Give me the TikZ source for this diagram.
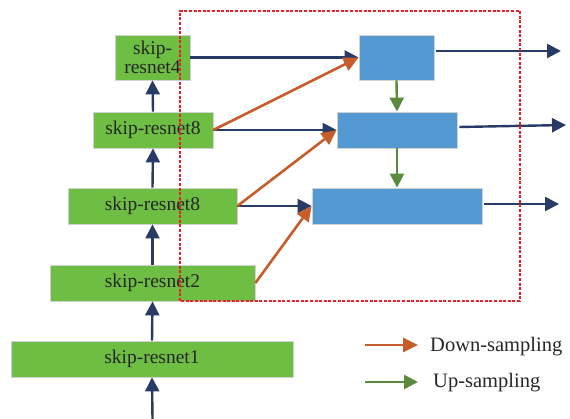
\documentclass[tikz,border=0pt]{standalone}
\usepackage{fontspec}
\setmainfont{Liberation Serif}
\usepackage{tikz}
\usetikzlibrary{arrows.meta,calc,shadows}

\definecolor{boxgreen}{HTML}{6EBE44}
\definecolor{boxblue}{HTML}{5599D3}
\definecolor{navy}{HTML}{283A66}
\definecolor{downorange}{HTML}{C55E2B}
\definecolor{upgreen}{HTML}{5A8A3C}
\definecolor{framered}{HTML}{E8202A}

\begin{document}
\begin{tikzpicture}[x=1pt,y=1pt]
	\tikzstyle{resbox}=[rectangle,fill=boxgreen,draw=gray!35,line width=0.8pt,inner sep=0pt,
	  text=black!85,font=\fontsize{19.5}{21}\selectfont,align=center,
	  drop shadow={opacity=0.12,shadow xshift=1.2pt,shadow yshift=-1.2pt}]
	\tikzstyle{fusebox}=[rectangle,fill=boxblue,draw=gray!35,line width=0.8pt,inner sep=0pt,
	  drop shadow={opacity=0.12,shadow xshift=1.2pt,shadow yshift=-1.2pt}]
	\tikzstyle{flow}=[draw=navy,line width=2.4pt,-{Triangle[length=14pt,width=14pt]}]
	\tikzstyle{down}=[draw=downorange,line width=2.6pt,-{Triangle[length=15pt,width=14pt]}]
	\tikzstyle{up}=[draw=upgreen,line width=2.4pt,-{Triangle[length=14pt,width=14pt]}]
	\useasboundingbox (0,0) rectangle (570,419);
	%
	% backbone
	\node[resbox,minimum width=282pt,minimum height=36pt] (res1) at (152,60) {skip-resnet1};
	\node[resbox,minimum width=205pt,minimum height=36pt] (res2) at (152.5,136) {skip-resnet2};
	\node[resbox,minimum width=169pt,minimum height=36pt] (res8b) at (152.5,213) {skip-resnet8};
	\node[resbox,minimum width=120pt,minimum height=36pt] (res8a) at (153,289) {skip-resnet8};
	\node[resbox,minimum width=75pt,minimum height=45pt] (res4) at (152.5,361.5) {skip-\\[-2pt]resnet4};
	%
	% fusion
	\node[fusebox,minimum width=75pt,minimum height=45pt] (fuse1) at (396.5,361.5) {};
	\node[fusebox,minimum width=120pt,minimum height=36pt] (fuse2) at (397,289) {};
	\node[fusebox,minimum width=170pt,minimum height=36pt] (fuse3) at (397,213) {};
	%
	\coordinate (in) at (152.5,0);
	\coordinate (out1) at (561,368);
	\coordinate (out2) at (566,294);
	\coordinate (out3) at (559,215);
	%
	\draw[flow] (in) -- (res1.south);
	\draw[flow] (res1.north) -- (res2.south);
	\draw[flow] (res2.north) -- (res8b.south);
	\draw[flow] (res8b.north) -- (res8a.south);
	\draw[flow] (res8a.north) -- (res4.south);
	%
	\draw[flow] (res4.east) -- (fuse1.west);
	\draw[flow] (res8a.east) -- (fuse2.west);
	\draw[flow] (res8b.east) -- (fuse3.west);
	%
	\draw[down] (res8a.east) -- (fuse1.west);
	\draw[down] (res8b.east) -- (fuse2.west);
	\draw[down] (res2.east) -- (fuse3.west);
	%
	\draw[up] (fuse1.south) -- (fuse2.north);
	\draw[up] (fuse2.south) -- (fuse3.north);
	%
	\draw[flow] ($(fuse1.east |- out1)+(2,0)$) -- (out1);
	\draw[flow] ($(fuse2.east)+(2,3)$) -- (out2);
	\draw[flow] ($(fuse3.east |- out3)+(2,0)$) -- (out3);
	%
	\draw[framered,line width=1.4pt,dash pattern=on 3pt off 1.6pt] (180,118) rectangle (520,408);
	%
	% legend
	\coordinate (ld1) at (365,74);
	\coordinate (ld2) at (418,74);
	\coordinate (lu1) at (365,37);
	\coordinate (lu2) at (418,37);
	\draw[down] (ld1) -- (ld2);
	\draw[up] (lu1) -- (lu2);
	\node[anchor=west,inner sep=0pt,text=black!85,font=\fontsize{20.5}{22}\selectfont] (ldtext) at (430,72) {Down-sampling};
	\node[anchor=west,inner sep=0pt,text=black!85,font=\fontsize{20.5}{22}\selectfont] (lutext) at (433,36) {Up-sampling};
\end{tikzpicture}
\end{document}
